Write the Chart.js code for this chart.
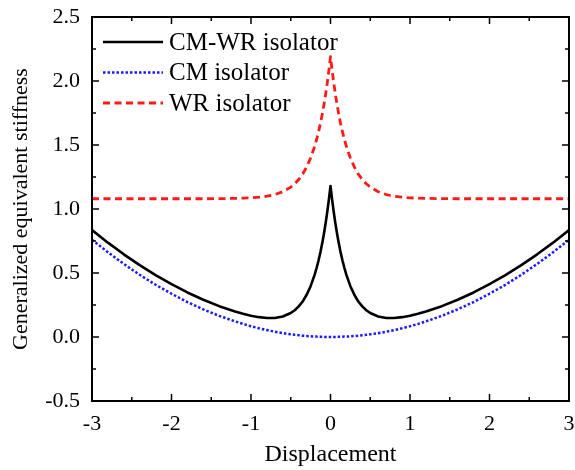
<!DOCTYPE html>
<html>
<head>
<meta charset="utf-8">
<script src="https://cdn.jsdelivr.net/npm/chart.js@4"></script>
<style>
  html, body { margin: 0; padding: 0; background: #fff; }
  #wrap { width: 575px; height: 470px; }
</style>
</head>
<body>
<div id="wrap"><canvas id="stiffnessChart" width="575" height="470"></canvas></div>
<script>
// Displacement samples (denser around zero where the peaks are)
const displacement = [
  -3.0, -2.8, -2.6, -2.4, -2.2, -2.0, -1.8, -1.6, -1.4, -1.2, -1.1, -1.0, -0.9, -0.8, -0.7, -0.6,
  -0.5, -0.45, -0.4, -0.35, -0.3, -0.25, -0.2, -0.175, -0.15, -0.125, -0.1, -0.08, -0.06, -0.04, -0.02,
  0,
  0.02, 0.04, 0.06, 0.08, 0.1, 0.125, 0.15, 0.175, 0.2, 0.25, 0.3, 0.35, 0.4, 0.45, 0.5,
  0.6, 0.7, 0.8, 0.9, 1.0, 1.1, 1.2, 1.4, 1.6, 1.8, 2.0, 2.2, 2.4, 2.6, 2.8, 3.0
];

const cmWrStiffness = [
  0.835, 0.737, 0.646, 0.561, 0.483, 0.413, 0.348, 0.291, 0.241, 0.199, 0.181, 0.166, 0.155, 0.149, 0.149, 0.160,
  0.187, 0.209, 0.239, 0.277, 0.330, 0.397, 0.485, 0.539, 0.599, 0.667, 0.746, 0.817, 0.894, 0.980, 1.075,
  1.18,
  1.075, 0.980, 0.894, 0.817, 0.746, 0.667, 0.599, 0.539, 0.485, 0.397, 0.330, 0.277, 0.239, 0.209, 0.187,
  0.160, 0.149, 0.149, 0.155, 0.166, 0.181, 0.199, 0.241, 0.291, 0.348, 0.413, 0.483, 0.561, 0.646, 0.737, 0.835
];

const cmStiffness = [
  0.760, 0.662, 0.571, 0.486, 0.408, 0.338, 0.273, 0.216, 0.165, 0.122, 0.102, 0.084, 0.068, 0.054, 0.041, 0.030,
  0.021, 0.017, 0.014, 0.010, 0.008, 0.005, 0.003, 0.003, 0.002, 0.001, 0.001, 0.0005, 0.0003, 0.0001, 0,
  0,
  0, 0.0001, 0.0003, 0.0005, 0.001, 0.001, 0.002, 0.003, 0.003, 0.005, 0.008, 0.010, 0.014, 0.017, 0.021,
  0.030, 0.041, 0.054, 0.068, 0.084, 0.102, 0.122, 0.165, 0.216, 0.273, 0.338, 0.408, 0.486, 0.571, 0.662, 0.760
];

const wrStiffness = [
  1.080, 1.080, 1.080, 1.080, 1.080, 1.080, 1.080, 1.080, 1.081, 1.083, 1.085, 1.087, 1.092, 1.100, 1.113, 1.135,
  1.171, 1.197, 1.230, 1.273, 1.328, 1.398, 1.488, 1.543, 1.604, 1.674, 1.753, 1.824, 1.903, 1.989, 2.085,
  2.19,
  2.085, 1.989, 1.903, 1.824, 1.753, 1.674, 1.604, 1.543, 1.488, 1.398, 1.328, 1.273, 1.230, 1.197, 1.171,
  1.135, 1.113, 1.100, 1.092, 1.087, 1.085, 1.083, 1.081, 1.080, 1.080, 1.080, 1.080, 1.080, 1.080, 1.080, 1.080
];

const seriesLabels = ['CM-WR isolator', 'CM isolator', 'WR isolator'];
const xTicks = [-3, -2, -1, 0, 1, 2, 3];
const yTicks = [-0.5, 0.0, 0.5, 1.0, 1.5, 2.0, 2.5];

const FONT = '"Liberation Serif", "Times New Roman", serif';

const toPoints = (ys) => displacement.map((x, i) => ({ x: x, y: ys[i] }));

// frame on all four sides with inward major/minor ticks
const framePlugin = {
  id: 'frame',
  afterDraw(chart) {
    const { ctx, chartArea: a, scales: { x, y } } = chart;
    ctx.save();
    ctx.strokeStyle = '#000';
    ctx.lineWidth = 2;
    ctx.strokeRect(a.left, a.top, a.right - a.left, a.bottom - a.top);
    ctx.lineWidth = 1.5;
    ctx.beginPath();
    const major = 7, minor = 4;
    for (let i = 0; i < xTicks.length; i++) {
      const px = x.getPixelForValue(xTicks[i]);
      ctx.moveTo(px, a.bottom); ctx.lineTo(px, a.bottom - major);
      ctx.moveTo(px, a.top); ctx.lineTo(px, a.top + major);
      if (i < xTicks.length - 1) {
        const mx = x.getPixelForValue((xTicks[i] + xTicks[i + 1]) / 2);
        ctx.moveTo(mx, a.bottom); ctx.lineTo(mx, a.bottom - minor);
        ctx.moveTo(mx, a.top); ctx.lineTo(mx, a.top + minor);
      }
    }
    for (let i = 0; i < yTicks.length; i++) {
      const py = y.getPixelForValue(yTicks[i]);
      ctx.moveTo(a.left, py); ctx.lineTo(a.left + major, py);
      ctx.moveTo(a.right, py); ctx.lineTo(a.right - major, py);
      if (i < yTicks.length - 1) {
        const my = y.getPixelForValue((yTicks[i] + yTicks[i + 1]) / 2);
        ctx.moveTo(a.left, my); ctx.lineTo(a.left + minor, my);
        ctx.moveTo(a.right, my); ctx.lineTo(a.right - minor, my);
      }
    }
    ctx.stroke();
    ctx.restore();
  }
};

// legend box in the upper-left corner of the plot
const insideLegend = {
  id: 'insideLegend',
  afterDatasetsDraw(chart) {
    const { ctx, chartArea: a } = chart;
    ctx.save();
    ctx.font = '25px ' + FONT;
    ctx.textBaseline = 'middle';
    ctx.fillStyle = '#000';
    chart.data.datasets.forEach((ds, i) => {
      const rowY = a.top + 25 + i * 30.5;
      ctx.strokeStyle = ds.borderColor;
      ctx.lineWidth = ds.borderWidth;
      ctx.setLineDash(ds.borderDash || []);
      ctx.beginPath();
      ctx.moveTo(a.left + 11, rowY);
      ctx.lineTo(a.left + 71, rowY);
      ctx.stroke();
      ctx.setLineDash([]);
      ctx.fillText(ds.label, a.left + 77, rowY + 1);
    });
    ctx.restore();
  }
};

new Chart(document.getElementById('stiffnessChart'), {
  type: 'line',
  data: {
    datasets: [
      {
        label: seriesLabels[0],
        data: toPoints(cmWrStiffness),
        borderColor: '#000000',
        borderWidth: 2.6,
        borderJoinStyle: 'round',
        pointRadius: 0,
        tension: 0
      },
      {
        label: seriesLabels[1],
        data: toPoints(cmStiffness),
        borderColor: '#1a1aff',
        borderWidth: 2.5,
        borderDash: [2.5, 2],
        borderJoinStyle: 'round',
        pointRadius: 0,
        tension: 0
      },
      {
        label: seriesLabels[2],
        data: toPoints(wrStiffness),
        borderColor: '#ff1a1a',
        borderWidth: 2.8,
        borderDash: [7, 4.5],
        borderJoinStyle: 'round',
        pointRadius: 0,
        tension: 0
      }
    ]
  },
  options: {
    responsive: false,
    animation: false,
    layout: { padding: { top: 17, right: 6, left: 0, bottom: 0 } },
    plugins: {
      legend: { display: false },
      tooltip: { enabled: false }
    },
    scales: {
      x: {
        type: 'linear',
        min: -3,
        max: 3,
        afterBuildTicks: (scale) => { scale.ticks = xTicks.map(v => ({ value: v })); },
        grid: { display: false, drawTicks: false },
        border: { display: false },
        ticks: {
          padding: 10,
          color: '#000',
          font: { family: FONT, size: 22 },
          maxRotation: 0
        },
        title: {
          display: true,
          text: 'Displacement',
          color: '#000',
          font: { family: FONT, size: 24 },
          padding: { bottom: 1, top: 0 }
        },
        afterFit: (scale) => {
          scale.height = 69;
          scale.paddingLeft = 0;
          scale.paddingRight = 0;
        }
      },
      y: {
        type: 'linear',
        min: -0.5,
        max: 2.5,
        afterBuildTicks: (scale) => { scale.ticks = yTicks.map(v => ({ value: v })); },
        grid: { display: false, drawTicks: false },
        border: { display: false },
        ticks: {
          padding: 12,
          color: '#000',
          font: { family: FONT, size: 22 },
          callback: (v) => v.toFixed(1)
        },
        title: {
          display: true,
          text: 'Generalized equivalent stiffness',
          color: '#000',
          font: { family: FONT, size: 22 },
          padding: { top: 8, bottom: 0 }
        },
        afterFit: (scale) => {
          scale.width = 92;
          scale.paddingTop = 0;
          scale.paddingBottom = 0;
        }
      }
    }
  },
  plugins: [framePlugin, insideLegend]
});
</script>
</body>
</html>
